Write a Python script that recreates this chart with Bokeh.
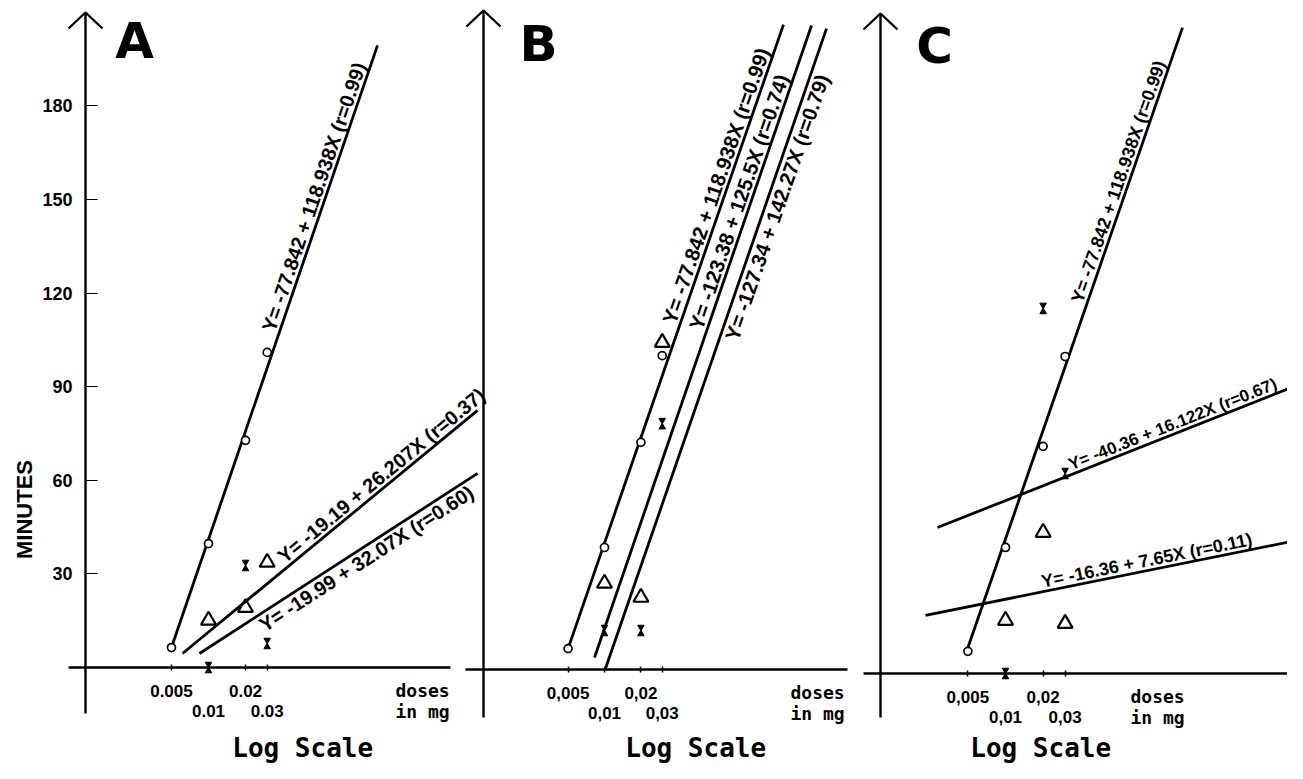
import math
from bokeh.plotting import figure
from bokeh.models import Range1d, LogScale, LinearAxis, FixedTicker
from bokeh.core.properties import value
from bokeh.embed import file_html
from bokeh.resources import INLINE

# ------------------------------------------------------------------ data
tick_doses = [0.005, 0.01, 0.02, 0.03]
tick_labels_A = ["0.005", "0.01", "0.02", "0.03"]
tick_labels_BC = ["0,005", "0,01", "0,02", "0,03"]
minute_ticks = [30, 60, 90, 120, 150, 180]

# Panel A
A_circle_dose = [0.005, 0.01, 0.02, 0.03]
A_circle_min = [6.4, 39.7, 72.8, 101.0]
A_cross_dose = [0.01, 0.02, 0.03]
A_cross_min = [0.0, 32.7, 7.7]
A_tri_dose = [0.01, 0.02, 0.03]
A_tri_min = [15.1, 19.2, 33.7]
A_line_dose = [[0.005, 0.2366], [0.00615, 1.54], [0.00845, 1.54]]
A_line_min = [[6.4, 199.4], [4.5, 82.4], [4.5, 62.2]]
A_equations = ["Y= -77.842 + 118.938X (r=0.99)",
               "Y= -19.19 + 26.207X (r=0.37)",
               "Y= -19.99 + 32.07X (r=0.60)"]

# Panel B
B_circle_dose = [0.005, 0.01, 0.02, 0.03]
B_circle_min = [6.7, 39.1, 72.8, 100.6]
B_cross_dose = [0.01, 0.02, 0.03]
B_cross_min = [12.5, 12.5, 78.8]
B_tri_dose = [0.01, 0.02, 0.03]
B_tri_min = [27.6, 23.1, 104.8]
B_line_dose = [[0.00504, 0.3015], [0.00827, 0.5137], [0.01019, 0.6834]]
B_line_min = [[7.1, 206.7], [3.85, 206.4], [0.3, 205.4]]
B_equations = ["Y= -77.842 + 118.938X (r=0.99)",
               "Y= -123.38 + 125.5X   (r=0.74)",
               "Y= -127.34 + 142.27X (r=0.79)"]

# Panel C
C_circle_dose = [0.005, 0.01, 0.02, 0.03]
C_circle_min = [7.1, 40.4, 72.8, 101.6]
C_cross_dose = [0.01, 0.02, 0.03]
C_cross_min = [0.0, 117.0, 64.1]
C_tri_dose = [0.01, 0.02, 0.03]
C_tri_min = [17.0, 45.2, 16.0]
C_line_dose = [[0.00488, 0.2606], [0.002858, 1.837], [0.00229, 2.29]]
C_line_min = [[7.05, 207.0], [46.8, 91.3], [18.6, 42.9]]
C_equations = ["Y= -77.842 + 118.938X  (r=0.99)",
               "Y= -40.36 + 16.122X (r=0.67)",
               "Y= -16.36 + 7.65X  (r=0.11)"]

panels = {
    "A": dict(circ=(A_circle_dose, A_circle_min), cross=(A_cross_dose, A_cross_min),
              tri=(A_tri_dose, A_tri_min), lines=(A_line_dose, A_line_min),
              eqs=A_equations, labels=tick_labels_A),
    "B": dict(circ=(B_circle_dose, B_circle_min), cross=(B_cross_dose, B_cross_min),
              tri=(B_tri_dose, B_tri_min), lines=(B_line_dose, B_line_min),
              eqs=B_equations, labels=tick_labels_BC),
    "C": dict(circ=(C_circle_dose, C_circle_min), cross=(C_cross_dose, C_cross_min),
              tri=(C_tri_dose, C_tri_min), lines=(C_line_dose, C_line_min),
              eqs=C_equations, labels=tick_labels_BC),
}

# ------------------------------------------------------------------ layout
W, H = 1287, 763
PANEL = {
    "A": dict(ox=85, oy=667, kx=123.0, ky=3.12),
    "B": dict(ox=483, oy=669, kx=121.0, ky=3.12),
    "C": dict(ox=880, oy=673, kx=125.0, ky=3.12),
}
AXIS_X_SPAN = {"A": (68, 450), "B": (465, 847), "C": (863, 1287)}
AXIS_Y_SPAN = {"A": (713, 12), "B": (717, 10), "C": (717, 13)}
LETTER_POS = {"A": (134, 40), "B": (538, 43), "C": (934, 45)}
UNITS_X = {"A": 395, "B": 790, "C": 1130}
LOGSCALE_X = {"A": 310, "B": 703, "C": 1048}
# (fraction along line where the equation starts, side of the line, font size)
LABEL_PLACE = {
    "A": [(0.52, "above", "20px"), (0.355, "above", "20px"), (0.20, "below", "20px")],
    "B": [(0.515, "above", "20.5px"), (0.514, "above", "20.5px"), (0.52, "below", "20.5px")],
    "C": [(0.555, "above", "18px"), (0.385, "above", "17px"), (0.315, "above", "18px")],
}

SANS = "Liberation Sans"
MONO = "DejaVu Sans Mono"


def sx2d(pn, sx):
    g = PANEL[pn]
    return 10 ** (-3 + (sx - g["ox"]) / g["kx"])


def sy2m(pn, sy):
    g = PANEL[pn]
    return (g["oy"] - sy) / g["ky"]


def screen_angle(pn, d0, m0, d1, m1):
    g = PANEL[pn]
    return math.atan2((m1 - m0) * g["ky"], (math.log10(d1) - math.log10(d0)) * g["kx"])


p = figure(width=W, height=H, x_range=Range1d(0, 1), y_range=Range1d(0, 1),
           x_axis_type=None, y_axis_type=None, toolbar_location=None,
           output_backend="svg", min_border=0)
p.outline_line_color = None
p.background_fill_color = "white"

p.extra_x_ranges = {pn: Range1d(sx2d(pn, 0), sx2d(pn, W)) for pn in PANEL}
p.extra_x_scales = {pn: LogScale() for pn in PANEL}
p.extra_y_ranges = {pn: Range1d(sy2m(pn, H), sy2m(pn, 0)) for pn in PANEL}

for pn, P in panels.items():
    kw = dict(x_range_name=pn, y_range_name=pn)
    g = PANEL[pn]
    # axis lines and arrow
    xa0, xa1 = AXIS_X_SPAN[pn]
    p.segment(x0=[sx2d(pn, xa0)], y0=[0], x1=[sx2d(pn, xa1)], y1=[0],
              line_color="black", line_width=2.6, **kw)
    ya0, ya1 = AXIS_Y_SPAN[pn]
    p.segment(x0=[0.001], y0=[sy2m(pn, ya0)], x1=[0.001], y1=[sy2m(pn, ya1)],
              line_color="black", line_width=2.4, **kw)
    p.line(x=[sx2d(pn, g["ox"] - 17), 0.001, sx2d(pn, g["ox"] + 17)],
           y=[sy2m(pn, ya1 + 16), sy2m(pn, ya1), sy2m(pn, ya1 + 16)],
           line_color="black", line_width=2.4, **kw)

    # regression lines
    ld, lm = P["lines"]
    p.multi_line(xs=ld, ys=lm, line_color="black", line_width=2.8, **kw)

    # equations
    for (t, side, fs), eq, d, m in zip(LABEL_PLACE[pn], P["eqs"], ld, lm):
        l0, l1 = math.log10(d[0]), math.log10(d[1])
        xd = 10 ** (l0 + t * (l1 - l0))
        ym = m[0] + t * (m[1] - m[0])
        ang = screen_angle(pn, d[0], m[0], d[1], m[1])
        p.text(x=[xd], y=[ym], text=[eq], angle=ang,
               text_font=value(SANS), text_font_style="bold", text_font_size=fs,
               text_align="left", text_baseline="bottom" if side == "above" else "top",
               text_color="black", **kw)

    # points
    cd, cm = P["circ"]
    p.scatter(cd, cm, marker="circle", size=8, fill_color="white",
              line_color="black", line_width=1.7, **kw)
    td, tm = P["tri"]
    p.scatter(td, tm, marker="triangle", size=15, fill_color=None,
              line_color="black", line_width=2.2, **kw)
    xd, xm = P["cross"]
    off = 3.4 / g["ky"]
    p.scatter(xd, [v + off for v in xm], marker="inverted_triangle", size=6.5,
              fill_color="black", line_color="black", line_width=1, **kw)
    p.scatter(xd, [v - off for v in xm], marker="triangle", size=6.5,
              fill_color="black", line_color="black", line_width=1, **kw)

    # x-axis tick labels (two staggered rows)
    for ticks, standoff in ((tick_doses[0::2], 14), (tick_doses[1::2], 34)):
        overrides = {t: lab for t, lab in zip(tick_doses, P["labels"]) if t in ticks}
        ax = LinearAxis(x_range_name=pn, y_range_name=pn, fixed_location=0,
                        ticker=FixedTicker(ticks=ticks),
                        major_label_overrides=overrides,
                        axis_line_color=None, major_tick_in=3, major_tick_out=3,
                        major_tick_line_width=1.5, minor_tick_line_color=None,
                        major_label_standoff=standoff,
                        major_label_text_font=SANS, major_label_text_font_style="bold",
                        major_label_text_font_size="17px", major_label_text_color="black")
        p.add_layout(ax, "below")

    # units and scale captions
    p.text(x=[sx2d(pn, UNITS_X[pn])] * 2,
           y=[sy2m(pn, g["oy"] + 23), sy2m(pn, g["oy"] + 44)],
           text=["doses", "in  mg"], text_font=value(MONO), text_font_style="bold",
           text_font_size="18px", text_align="left", text_baseline="middle", **kw)
    p.text(x=[sx2d(pn, LOGSCALE_X[pn])], y=[sy2m(pn, 747)],
           text=["Log  Scale"], text_font=value(MONO), text_font_style="bold",
           text_font_size="26px", text_align="center", text_baseline="middle", **kw)

    # panel letter
    lx, ly = LETTER_POS[pn]
    p.text(x=[sx2d(pn, lx)], y=[sy2m(pn, ly)], text=[pn],
           text_font=value("DejaVu Sans"), text_font_style="bold", text_font_size="50px",
           text_align="center", text_baseline="middle", **kw)

# y axis (minutes) on panel A
yax = LinearAxis(x_range_name="A", y_range_name="A", fixed_location=0.001,
                 ticker=FixedTicker(ticks=minute_ticks), axis_line_color=None,
                 major_tick_in=12, major_tick_out=0, major_tick_line_width=1.2,
                 minor_tick_line_color=None, major_label_standoff=13,
                 major_label_text_font=SANS, major_label_text_font_style="bold",
                 major_label_text_font_size="18px", major_label_text_color="black")
p.add_layout(yax, "left")

p.text(x=[sx2d("A", 24)], y=[sy2m("A", 509)], text=["MINUTES"], angle=math.pi / 2,
       text_font=value(SANS), text_font_style="bold", text_font_size="22px",
       text_align="center", text_baseline="middle", x_range_name="A", y_range_name="A")

open("out.html", "w").write(file_html(p, INLINE))
